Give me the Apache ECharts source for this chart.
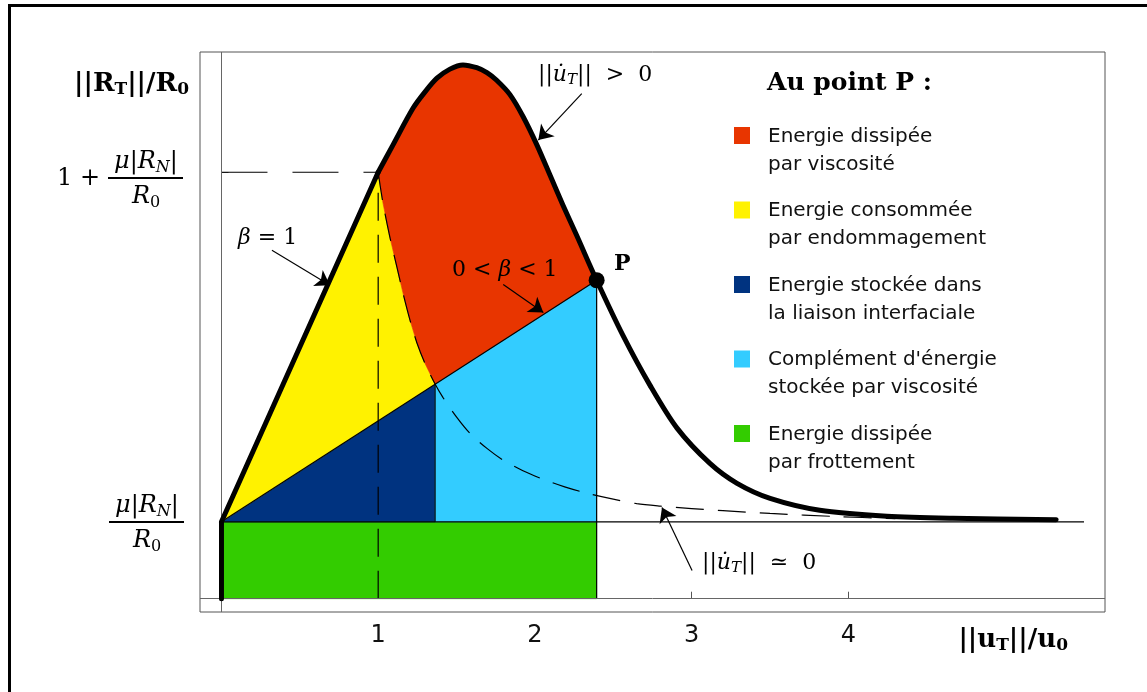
<!DOCTYPE html>
<html>
<head>
<meta charset="utf-8">
<script src="https://cdn.jsdelivr.net/npm/echarts@6/dist/echarts.min.js"></script>
<style>
  html, body { margin: 0; padding: 0; background: #fff; }
  #chart { width: 1147px; height: 692px; }
</style>
</head>
<body>
<div id="chart"></div>
<script>
  // values  (x = ||u_T||/u_0 , y = ||R_T||/R_0)
  const friction = 0.22;            // mu|R_N|/R_0
  const peakStart = [1, 1.22];      // 1 + mu|R_N|/R_0 at x = 1
  const pointP = [2.394, 0.911];
  const junction = [1.363, 0.614];  // where the relaxed curve meets the beta line
  const lineEnd = 5.504;
  const xTicks = [1, 2, 3, 4];
  const yTicks = [0.22, 1.22];

  // thick curve ||du_T|| > 0, from x = 1 on
  const envelope = [
    [1, 1.22], [1.093, 1.297], [1.222, 1.403], [1.299, 1.450], [1.375, 1.489],
    [1.458, 1.515], [1.541, 1.527], [1.629, 1.519], [1.694, 1.505], [1.756, 1.483],
    [1.841, 1.442], [1.926, 1.378], [2.014, 1.297], [2.099, 1.209], [2.180, 1.125],
    [2.267, 1.039], [2.394, 0.911], [2.561, 0.754], [2.734, 0.611], [2.907, 0.488],
    [3.117, 0.387], [3.290, 0.330], [3.501, 0.287], [3.818, 0.253], [4.246, 0.236],
    [4.667, 0.230], [5.326, 0.226]
  ];

  // dashed curve ||du_T|| ~ 0
  const relaxed = [
    [1, 1.22], [1.031, 1.131], [1.075, 1.034], [1.120, 0.948], [1.158, 0.875],
    [1.203, 0.797], [1.248, 0.731], [1.299, 0.673], [1.363, 0.614], [1.413, 0.576],
    [1.503, 0.518], [1.586, 0.473], [1.694, 0.430], [1.796, 0.397], [1.924, 0.366],
    [2.051, 0.342], [2.190, 0.320], [2.332, 0.302], [2.500, 0.285], [2.650, 0.272],
    [2.800, 0.265], [3.000, 0.258], [3.200, 0.252], [3.500, 0.244], [3.930, 0.235],
    [4.300, 0.229]
  ];

  // annotation arrows (tail, head)
  const arrowFrom = [[2.299, 1.445], [0.322, 0.997], [1.798, 0.899], [3.003, 0.081]];
  const arrowTo = [[2.022, 1.312], [0.692, 0.897], [2.054, 0.819], [2.811, 0.261]];

  const legendLabels = [
    'Energie dissipée\npar viscosité',
    'Energie consommée\npar endommagement',
    'Energie stockée dans\nla liaison interfaciale',
    "Complément d'énergie\nstockée par viscosité",
    'Energie dissipée\npar frottement'
  ];

  const RED = '#e83500', YELLOW = '#fff200', NAVY = '#003380', CYAN = '#33ccff', GREEN = '#33cc00';
  const legendColors = [RED, YELLOW, NAVY, CYAN, GREEN];

  const upperEnvelope = envelope.filter(p => p[0] <= pointP[0]);
  const upperRelaxed = relaxed.filter(p => p[0] <= junction[0]);

  const regions = [
    { color: GREEN, pts: [[0, 0], [pointP[0], 0], [pointP[0], friction], [0, friction]] },
    { color: NAVY, pts: [[0, friction], junction, [junction[0], friction]] },
    { color: CYAN, pts: [[junction[0], friction], junction, pointP, [pointP[0], friction]] },
    { color: YELLOW, pts: [[0, friction]].concat(upperRelaxed) },
    { color: RED, pts: upperEnvelope.concat(upperRelaxed.slice().reverse()) }
  ];

  function polygonSeries(reg) {
    return {
      type: 'custom',
      silent: true,
      z: 1,
      data: reg.pts,
      encode: { x: 0, y: 1 },
      renderItem: function (params, api) {
        if (params.dataIndex !== 0) return null;
        return {
          type: 'polygon',
          shape: { points: reg.pts.map(p => api.coord(p)) },
          style: { fill: reg.color, stroke: reg.color, lineWidth: 0.6 }
        };
      }
    };
  }

  function lineSeries(data, style, z, smooth) {
    return {
      type: 'line', data: data, symbol: 'none', silent: true, z: z,
      smooth: smooth || false, lineStyle: style
    };
  }

  const thin = { color: '#000', width: 1.2 };
  const dashed = { color: '#000', width: 1.2, type: [28, 14] };
  const dashedLong = { color: '#000', width: 1.2, type: [46, 25] };
  const thick = { color: '#000', width: 5, cap: 'round', join: 'round' };

  const series = regions.map(polygonSeries).concat([
    lineSeries([[0, friction], pointP], thin, 3),
    lineSeries([[junction[0], friction], junction], thin, 3),
    lineSeries([[pointP[0], 0], pointP], thin, 3),
    lineSeries([[0, friction], [lineEnd, friction]], thin, 3),
    lineSeries([[0, peakStart[1]], peakStart], dashedLong, 3),
    lineSeries([[peakStart[0], 0], peakStart], dashed, 3),
    lineSeries(relaxed, dashed, 3, 0.3),
    lineSeries([[0, 0], [0, friction], peakStart], thick, 5),
    lineSeries(envelope, thick, 5, 0.3),
    {
      type: 'scatter', data: [pointP], symbolSize: 16, silent: true, z: 6,
      itemStyle: { color: '#000', opacity: 1 },
      markLine: {
        silent: true, symbol: ['none', 'arrow'], symbolSize: 14,
        label: { show: false }, animation: false,
        lineStyle: { color: '#000', width: 1.2, type: 'solid' },
        emphasis: { disabled: true },
        data: arrowFrom.map((a, k) => [{ coord: a }, { coord: arrowTo[k] }])
      }
    },
    {
      type: 'line', data: [], silent: true, z: 2,
      markLine: {
        silent: true, symbol: 'none', label: { show: false }, animation: false,
        lineStyle: { color: '#666', width: 1, type: 'solid' },
        emphasis: { disabled: true },
        data: [{ xAxis: 0 }, { yAxis: 0 }]
      }
    }
  ]);

  const SERIF = 'DejaVu Serif';
  const rich = {
    i: { fontFamily: SERIF, fontStyle: 'italic', fontSize: 22, fill: '#000' },
    r: { fontFamily: SERIF, fontSize: 22, fill: '#000' },
    s: { fontFamily: SERIF, fontStyle: 'italic', fontSize: 15, fill: '#000', padding: [10, 0, 0, 0] },
    rs: { fontFamily: SERIF, fontSize: 15, fill: '#000', padding: [10, 0, 0, 0] },
    fi: { fontFamily: SERIF, fontStyle: 'italic', fontSize: 24, fill: '#000' },
    fr: { fontFamily: SERIF, fontSize: 24, fill: '#000' },
    fs: { fontFamily: SERIF, fontStyle: 'italic', fontSize: 16, fill: '#000', padding: [11, 0, 0, 0] },
    frs: { fontFamily: SERIF, fontSize: 16, fill: '#000', padding: [11, 0, 0, 0] },
    b: { fontFamily: SERIF, fontWeight: 'bold', fontSize: 26, fill: '#000' },
    bs: { fontFamily: SERIF, fontWeight: 'bold', fontSize: 17, fill: '#000', padding: [12, 0, 0, 0] },
    p: { fontFamily: SERIF, fontWeight: 'bold', fontSize: 22, fill: '#000' }
  };

  function mathText(x, y, text, align) {
    return {
      type: 'text', x: x, y: y, silent: true, z: 100,
      style: { text: text, rich: rich, align: align || 'left', verticalAlign: 'middle' }
    };
  }

  function fraction(cx, cy, x1, x2, num, den) {
    return [
      mathText(cx, cy - 16, num, 'center'),
      { type: 'line', silent: true, z: 100, shape: { x1: x1, y1: cy, x2: x2, y2: cy }, style: { stroke: '#000', lineWidth: 2 } },
      mathText(cx, cy + 19, den, 'center')
    ];
  }

  const graphics = [
    { type: 'rect', silent: true, shape: { x: 8, y: 4, width: 3, height: 688 }, style: { fill: '#000' } },
    { type: 'rect', silent: true, shape: { x: 8, y: 4, width: 1139, height: 3 }, style: { fill: '#000' } },
    mathText(189, 84, '{b|||R}{bs|T}{b|||/R}{bs|0}', 'right'),
    mathText(57, 179, '{fr|1 + }'),
    mathText(1068, 640, '{b|||u}{bs|T}{b|||/u}{bs|0}', 'right'),
    mathText(538, 75, '{r|||}{i|u\u0307}{s|T}{r|||  >  0}'),
    mathText(238, 238, '{i|β}{r| = 1}'),
    mathText(452, 270, '{r|0 < }{i|β}{r| < 1}'),
    mathText(614, 264, '{p|P}'),
    mathText(702, 563, '{r|||}{i|u\u0307}{s|T}{r|||  ≃  0}'),
    {
      type: 'text', x: 767, y: 83, silent: true, z: 100,
      style: { text: 'Au point P :', fontFamily: SERIF, fontWeight: 'bold', fontSize: 25, fill: '#000', verticalAlign: 'middle' }
    }
  ].concat(
    fraction(146, 178, 108, 183, '{fi|μ}{fr||}{fi|R}{fs|N}{fr||}', '{fi|R}{frs|0}'),
    fraction(147, 522, 109, 184, '{fi|μ}{fr||}{fi|R}{fs|N}{fr||}', '{fi|R}{frs|0}')
  );

  legendLabels.forEach((t, k) => {
    const cy = 135.5 + k * 74.5;
    graphics.push({ type: 'rect', silent: true, shape: { x: 734, y: cy - 8.5, width: 16, height: 17 }, style: { fill: legendColors[k] } });
    graphics.push({
      type: 'text', x: 768, y: cy - 13, silent: true, z: 100,
      style: { text: t, fontFamily: 'DejaVu Sans', fontSize: 20, lineHeight: 28, fill: '#111', verticalAlign: 'top' }
    });
  });

  const chart = echarts.init(document.getElementById('chart'));
  chart.setOption({
    animation: false,
    backgroundColor: '#fff',
    grid: { left: 200, right: 42, top: 52, bottom: 80, show: true, borderColor: '#555', borderWidth: 1 },
    xAxis: {
      type: 'value', min: -0.137, max: 5.638,
      splitLine: { show: false }, axisLine: { show: false },
      axisTick: { show: true, inside: true, length: 7, customValues: xTicks, lineStyle: { color: '#555' } },
      axisLabel: { customValues: xTicks, color: '#111', fontFamily: 'DejaVu Sans', fontSize: 24, margin: 12 }
    },
    yAxis: {
      type: 'value', min: -0.038, max: 1.564,
      splitLine: { show: false }, axisLine: { show: false },
      axisTick: { show: true, inside: true, length: 7, customValues: yTicks, lineStyle: { color: '#555' } },
      axisLabel: { show: false }
    },
    series: series,
    graphic: graphics
  });
</script>
</body>
</html>
